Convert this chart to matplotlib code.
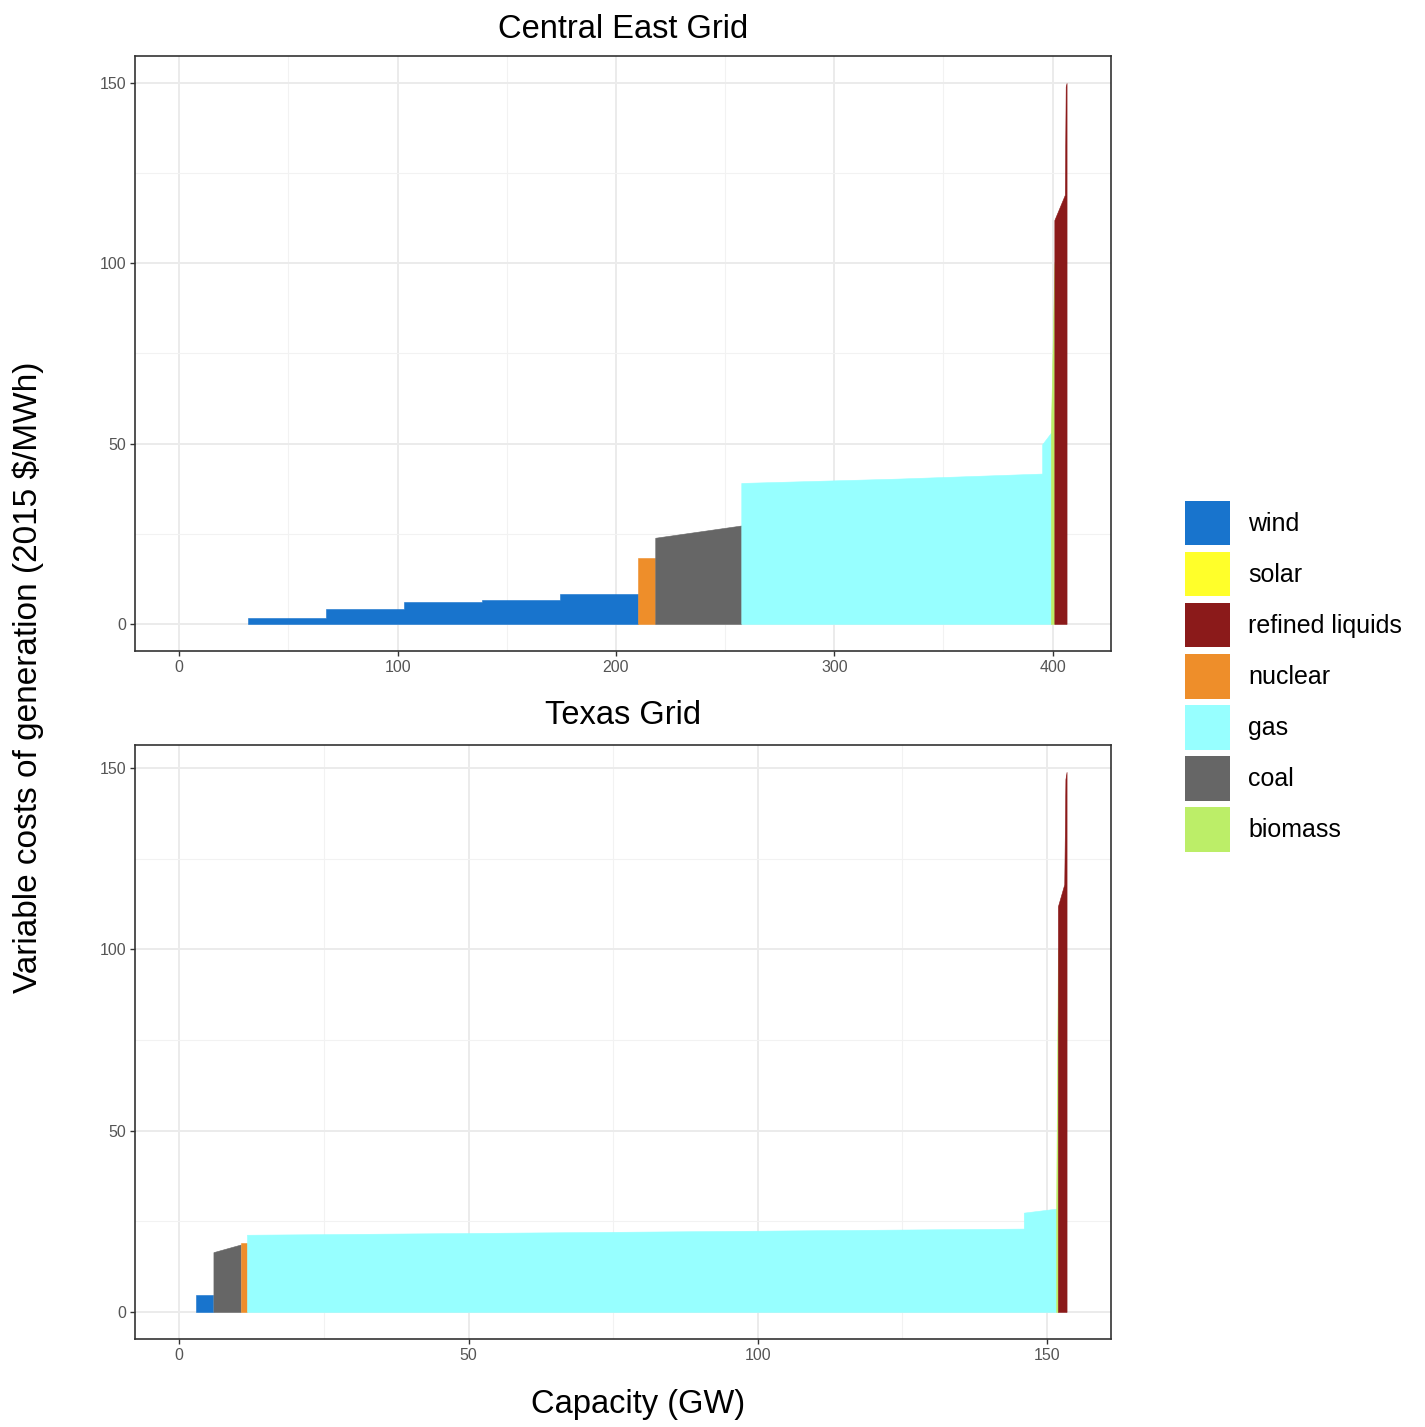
import matplotlib
matplotlib.use("Agg")
import matplotlib.pyplot as plt
from matplotlib.patches import Patch

plt.rcParams["font.family"] = ["Liberation Sans", "DejaVu Sans"]

# legend order and colours
techs = ["wind", "solar", "refined liquids", "nuclear", "gas", "coal", "biomass"]
tech_colors = ["#1874CD", "#FFFF2A", "#8B1A1A", "#EE8E2A", "#97FFFF", "#666666", "#BCEE68"]

# Central East Grid supply curve: cumulative capacity (GW) and cost ($/MWh)
ce_solar_cap = [0.0, 31.6]
ce_solar_cost = [0.0, 0.0]
ce_wind_cap = [31.6, 67.2, 67.2, 103.0, 103.0, 138.6, 138.6, 174.6, 174.6, 210.0]
ce_wind_cost = [1.6, 1.6, 4.1, 4.1, 6.2, 6.2, 6.7, 6.7, 8.3, 8.3]
ce_nuclear_cap = [210.0, 218.0]
ce_nuclear_cost = [18.4, 18.4]
ce_coal_cap = [218.0, 257.4]
ce_coal_cost = [23.9, 27.3]
ce_gas_cap = [257.4, 329.0, 395.2, 395.2, 399.2]
ce_gas_cost = [39.1, 40.3, 41.7, 49.8, 53.0]
ce_biomass_cap = [399.2, 400.8]
ce_biomass_cost = [53.0, 100.0]
ce_refined_cap = [400.8, 405.6, 406.0, 406.4]
ce_refined_cost = [112.0, 119.0, 149.0, 150.0]

# Texas Grid supply curve
tx_solar_cap = [0.0, 2.9]
tx_solar_cost = [0.0, 0.0]
tx_wind_cap = [2.9, 5.9]
tx_wind_cost = [4.6, 4.6]
tx_coal_cap = [5.9, 10.6]
tx_coal_cost = [16.5, 18.6]
tx_nuclear_cap = [10.6, 11.7]
tx_nuclear_cost = [19.0, 19.0]
tx_gas_cap = [11.7, 146.0, 146.0, 151.6]
tx_gas_cost = [21.3, 23.0, 27.4, 28.5]
tx_biomass_cap = [151.6, 151.9]
tx_biomass_cost = [28.5, 100.0]
tx_refined_cap = [151.9, 153.0, 153.2, 153.4]
tx_refined_cost = [111.9, 118.0, 147.0, 149.0]

central_east = {
    "solar": (ce_solar_cap, ce_solar_cost),
    "wind": (ce_wind_cap, ce_wind_cost),
    "nuclear": (ce_nuclear_cap, ce_nuclear_cost),
    "coal": (ce_coal_cap, ce_coal_cost),
    "gas": (ce_gas_cap, ce_gas_cost),
    "biomass": (ce_biomass_cap, ce_biomass_cost),
    "refined liquids": (ce_refined_cap, ce_refined_cost),
}
texas = {
    "solar": (tx_solar_cap, tx_solar_cost),
    "wind": (tx_wind_cap, tx_wind_cost),
    "coal": (tx_coal_cap, tx_coal_cost),
    "nuclear": (tx_nuclear_cap, tx_nuclear_cost),
    "gas": (tx_gas_cap, tx_gas_cost),
    "biomass": (tx_biomass_cap, tx_biomass_cost),
    "refined liquids": (tx_refined_cap, tx_refined_cost),
}

ce_major = [0, 100, 200, 300, 400]
ce_minor = [50, 150, 250, 350]
tx_major = [0, 50, 100, 150]
tx_minor = [25, 75, 125]
y_major = [0, 50, 100, 150]
y_minor = [25, 75, 125]

color_of = dict(zip(techs, tech_colors))


def draw_panel(ax, data, title, xmajor, xminor, pad):
    xmin, xmax, ymax = 0.0, 0.0, 0.0
    for tech, (cap, cost) in data.items():
        # zero-height areas stay invisible, as in ggplot
        lw = 0.4 if max(cost) > 0 else 0
        ax.fill_between(cap, 0, cost, color=color_of[tech], linewidth=lw,
                        edgecolor=color_of[tech], zorder=2)
        xmax = max(xmax, max(cap))
        ymax = max(ymax, max(cost))
    dx = (xmax - xmin) * 0.05
    dy = ymax * 0.05
    ax.set_xlim(xmin - dx, xmax + dx)
    ax.set_ylim(-dy, ymax + dy)
    ax.set_xticks(xmajor)
    ax.set_xticks(xminor, minor=True)
    ax.set_yticks(y_major)
    ax.set_yticks(y_minor, minor=True)
    ax.grid(True, which="major", color="#EBEBEB", linewidth=1.4, zorder=0)
    ax.grid(True, which="minor", color="#F2F2F2", linewidth=0.8, zorder=0)
    ax.set_axisbelow(True)
    ax.tick_params(which="major", direction="out", length=3.5, width=1.0,
                   color="#333333", labelsize=11.5, labelcolor="#555555", pad=3)
    ax.tick_params(which="minor", length=0)
    for s in ax.spines.values():
        s.set_color("#333333")
        s.set_linewidth(1.2)
    ax.set_title(title, fontsize=23.5, pad=pad)


fig = plt.figure(figsize=(14.25, 14.27), dpi=100)
ax1 = fig.add_axes([0.0947, 0.5438, 0.6849, 0.4170])
ax2 = fig.add_axes([0.0947, 0.0617, 0.6849, 0.4163])

draw_panel(ax1, central_east, "Central East Grid", ce_major, ce_minor, 13)
draw_panel(ax2, texas, "Texas Grid", tx_major, tx_minor, 15)

fig.text(0.448, 1 - 1405 / 1427, "Capacity (GW)", fontsize=23.5,
         ha="center", va="center")
fig.text(0.020, 1 - 677 / 1427, "Variable costs of generation (2015 $/MWh)",
         fontsize=24, rotation=90, ha="center", va="center")

handles = [Patch(facecolor=c, edgecolor="none", label=t)
           for t, c in zip(techs, tech_colors)]
fig.legend(handles=handles, loc="upper left",
           bbox_to_anchor=(1185 / 1425, 1 - 501 / 1427),
           frameon=False, fontsize=18, handlelength=1.8, handleheight=2.35,
           labelspacing=0.27, handletextpad=0.72, borderpad=0, borderaxespad=0)

fig.savefig("out.png", dpi=100)
